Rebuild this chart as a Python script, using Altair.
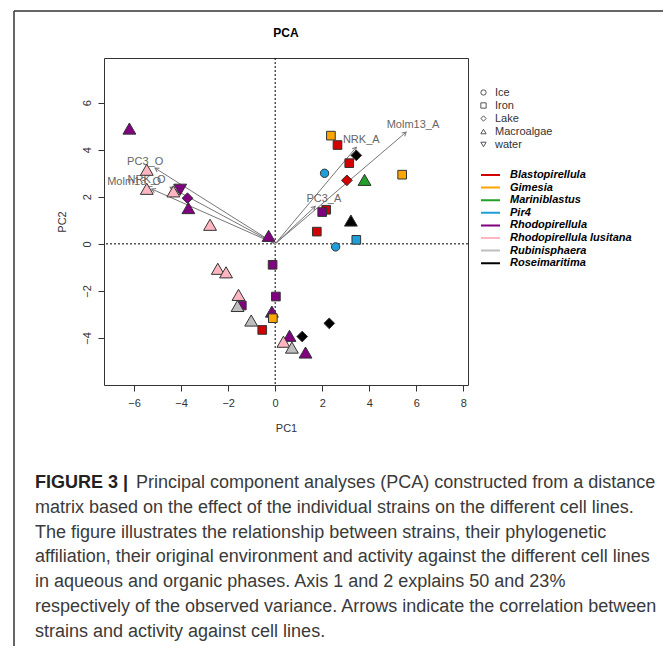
import math
import altair as alt
import pandas as pd

# ---------------- data ----------------
pc1 = [-6.20, -5.46, -5.46, -4.33, -4.04, -3.73, -3.69, -2.77, -0.28,
       2.37, 2.65, 3.45, 3.15, 2.10, 3.05, 3.80, 5.40, 2.17, 2.00, 3.22,
       1.77, 3.45, 2.57, -0.11, -2.44, -2.09, 0.03, -1.56, -1.42, -1.60,
       -0.14, -0.10, -1.02, 2.30, -0.55, 0.61, 1.15, 0.35, 0.71, 1.29]
pc2 = [4.90, 3.15, 2.34, 2.23, 2.30, 1.94, 1.52, 0.81, 0.34,
       4.60, 4.20, 3.76, 3.43, 3.00, 2.70, 2.72, 2.94, 1.45, 1.35, 0.99,
       0.52, 0.17, -0.13, -0.89, -1.06, -1.21, -2.24, -2.17, -2.62, -2.64,
       -2.88, -3.16, -3.26, -3.38, -3.66, -3.91, -3.94, -4.16, -4.41, -4.62]
genus = ["Rhodopirellula", "Rhodopirellula lusitana", "Rhodopirellula lusitana",
         "Rhodopirellula lusitana", "Rhodopirellula", "Rhodopirellula", "Rhodopirellula",
         "Rhodopirellula lusitana", "Rhodopirellula",
         "Gimesia", "Blastopirellula", "Roseimaritima", "Blastopirellula", "Pir4",
         "Blastopirellula", "Mariniblastus", "Gimesia", "Blastopirellula", "Rhodopirellula",
         "Roseimaritima", "Blastopirellula", "Pir4", "Pir4", "Rhodopirellula",
         "Rhodopirellula lusitana", "Rhodopirellula lusitana", "Rhodopirellula",
         "Rhodopirellula lusitana", "Rhodopirellula", "Rubinisphaera", "Rhodopirellula",
         "Gimesia", "Rubinisphaera", "Roseimaritima", "Blastopirellula", "Rhodopirellula",
         "Roseimaritima", "Rhodopirellula lusitana", "Rubinisphaera", "Rhodopirellula"]
env = ["Macroalgae", "Macroalgae", "Macroalgae", "Macroalgae", "water", "Lake",
       "Macroalgae", "Macroalgae", "Macroalgae",
       "Iron", "Iron", "Lake", "Iron", "Ice", "Lake", "Macroalgae", "Iron", "Iron",
       "Iron", "Macroalgae", "Iron", "Iron", "Ice", "Iron", "Macroalgae", "Macroalgae",
       "Iron", "Macroalgae", "Iron", "Macroalgae", "Macroalgae", "Iron", "Macroalgae",
       "Lake", "Iron", "Macroalgae", "Lake", "Macroalgae", "Macroalgae", "Macroalgae"]

genera = ["Blastopirellula", "Gimesia", "Mariniblastus", "Pir4", "Rhodopirellula",
          "Rhodopirellula lusitana", "Rubinisphaera", "Roseimaritima"]
genus_colors = ["#d20000", "#ffa500", "#22a02a", "#1e9fd8", "#800080",
                "#ffb6c1", "#bebebe", "#000000"]

environments = ["Ice", "Iron", "Lake", "Macroalgae", "water"]
env_shapes = ["circle", "square", "diamond", "triangle-up", "triangle-down"]

arrow_names = ["PC3_O", "NRK_O", "Molm13_O", "PC3_A", "NRK_A", "Molm13_A"]
arrow_x = [-5.11, -4.47, -5.25, 1.70, 3.45, 5.57]
arrow_y = [3.22, 2.41, 2.33, 1.59, 4.11, 4.75]
label_x = [-5.53, -5.47, -6.00, 2.07, 3.66, 5.86]
label_y = [3.50, 2.72, 2.64, 1.90, 4.40, 5.06]

x_ticks = [-6, -4, -2, 0, 2, 4, 6, 8]
y_ticks = [-4, -2, 0, 2, 4, 6]

plot_title = "PCA"
caption_bold = "FIGURE 3 |"
caption_first = "Principal component analyses (PCA) constructed from a distance"
caption_rest = [
    "matrix based on the effect of the individual strains on the different cell lines.",
    "The figure illustrates the relationship between strains, their phylogenetic",
    "affiliation, their original environment and activity against the different cell lines",
    "in aqueous and organic phases. Axis 1 and 2 explains 50 and 23%",
    "respectively of the observed variance. Arrows indicate the correlation between",
    "strains and activity against cell lines.",
]

# marker size per symbol (style, not data)
SYMBOL_SIZE = {"Ice": 70, "Iron": 75, "Lake": 115, "Macroalgae": 165, "water": 165}

# ---------------- tables ----------------
pts = pd.DataFrame({"PC1": pc1, "PC2": pc2, "genus": genus, "env": env})
pts["sz"] = pts["env"].map(SYMBOL_SIZE)
arr = pd.DataFrame({"name": arrow_names, "x": arrow_x, "y": arrow_y,
                    "lx": label_x, "ly": label_y})
arr["x0"] = 0.0
arr["y0"] = 0.0
arr["angle"] = [(math.degrees(math.atan2(a, b)) + 360) % 360 for a, b in zip(arrow_x, arrow_y)]
zero = pd.DataFrame({"v": [0.0]})
gdf = pd.DataFrame({"genus": genera})
one = pd.DataFrame({"k": [0]})

FONT = "Liberation Sans"
xs = alt.Scale(domain=[-7.28, 8.2], nice=False, zero=False)
ys = alt.Scale(domain=[-6.0, 7.9], nice=False, zero=False)

xax = alt.Axis(values=x_ticks, grid=False, domain=False, tickSize=6, tickColor="#333",
               labelFont=FONT, labelFontSize=11, labelColor="#333", labelPadding=6,
               titleFont=FONT, titleFontSize=11, titleFontWeight="normal",
               titleColor="#333", titlePadding=14)
yax = alt.Axis(values=y_ticks, grid=False, domain=False, tickSize=6, tickColor="#333",
               labelFont=FONT, labelFontSize=11, labelColor="#333", labelPadding=6,
               labelAngle=270, labelAlign="center", labelBaseline="bottom",
               titleFont=FONT, titleFontSize=11, titleFontWeight="normal",
               titleColor="#333", titlePadding=14)

vline = alt.Chart(zero).mark_rule(color="black", strokeDash=[2, 2], strokeWidth=1).encode(
    x=alt.X("v:Q", scale=xs, axis=xax, title="PC1"))
hline = alt.Chart(zero).mark_rule(color="black", strokeDash=[2, 2], strokeWidth=1).encode(
    y=alt.Y("v:Q", scale=ys, axis=yax, title="PC2"))

arrows = alt.Chart(arr).mark_rule(color="#777", strokeWidth=1).encode(
    x="x0:Q", y="y0:Q", x2="x:Q", y2="y:Q")
heads = alt.Chart(arr).mark_point(
    shape="M -0.5 0.866 L 0 0 L 0.5 0.866", filled=False, stroke="#777",
    strokeWidth=1, size=80, opacity=1).encode(
    x="x:Q", y="y:Q", angle=alt.Angle("angle:Q", scale=None))
labels = alt.Chart(arr).mark_text(font=FONT, fontSize=11, color="#666").encode(
    x="lx:Q", y="ly:Q", text="name:N")

points = alt.Chart(pts).mark_point(filled=True, stroke="#333", strokeWidth=1, opacity=1).encode(
    x="PC1:Q", y="PC2:Q",
    fill=alt.Fill("genus:N", scale=alt.Scale(domain=genera, range=genus_colors), legend=None),
    shape=alt.Shape("env:N", scale=alt.Scale(domain=environments, range=env_shapes),
                    legend=alt.Legend(title=None, orient="none", legendX=374, legendY=29,
                                      padding=0, symbolSize=28, symbolFillColor="white",
                                      symbolStrokeColor="#555", symbolStrokeWidth=1,
                                      labelFont=FONT, labelFontSize=11, labelColor="#333",
                                      labelOffset=6, rowPadding=1.0, clipHeight=11)),
    size=alt.Size("sz:Q", scale=None, legend=None),
)

genus_key = alt.Chart(gdf).mark_line(strokeWidth=2).encode(
    x=alt.value(0), y=alt.value(0),
    stroke=alt.Stroke("genus:N", scale=alt.Scale(domain=genera, range=genus_colors),
                      legend=alt.Legend(title=None, orient="none", legendX=376, legendY=111,
                                        padding=0, symbolType="stroke", symbolSize=360,
                                        symbolStrokeWidth=2, labelFont=FONT, labelFontSize=11,
                                        labelColor="black", labelFontStyle="italic",
                                        labelFontWeight="bold", labelOffset=9,
                                        rowPadding=0.6, clipHeight=12)),
)

title_mark = alt.Chart(one).mark_text(font=FONT, fontSize=12, fontWeight="bold", color="black",
                                      align="center", baseline="middle").encode(
    x=alt.value(182), y=alt.value(-25), text=alt.value(plot_title))

frame_left = alt.Chart(one).mark_rule(color="#333", strokeWidth=1.5).encode(
    x=alt.value(-90), y=alt.value(-47), y2=alt.value(600))
frame_top = alt.Chart(one).mark_rule(color="#333", strokeWidth=1.5).encode(
    x=alt.value(-90), x2=alt.value(570), y=alt.value(-47))

CAP = 18
cap_b = alt.Chart(one).mark_text(font=FONT, fontSize=CAP, fontWeight="bold", color="#222",
                                 align="left", baseline="top").encode(
    x=alt.value(-69), y=alt.value(416), text=alt.value(caption_bold))
cap_1 = alt.Chart(one).mark_text(font=FONT, fontSize=CAP, color="#3a3a3a",
                                 align="left", baseline="top").encode(
    x=alt.value(32), y=alt.value(416), text=alt.value(caption_first))
cap_r = alt.Chart(one).mark_text(font=FONT, fontSize=CAP, color="#3a3a3a", lineHeight=24.8,
                                 align="left", baseline="top").encode(
    x=alt.value(-69), y=alt.value(440.8), text=alt.value(caption_rest))

chart = alt.layer(
    vline, hline, arrows, heads, labels, points, genus_key, title_mark,
    frame_left, frame_top, cap_b, cap_1, cap_r
).resolve_scale(fill="independent", stroke="independent").properties(
    width=364, height=327,
    autosize=alt.AutoSizeParams(type="none"),
    padding={"left": 96, "top": 50, "right": 195, "bottom": 261},
).configure_view(stroke="#333", strokeWidth=1)

chart.save("out.html", embed_options={"renderer": "svg", "actions": False})
